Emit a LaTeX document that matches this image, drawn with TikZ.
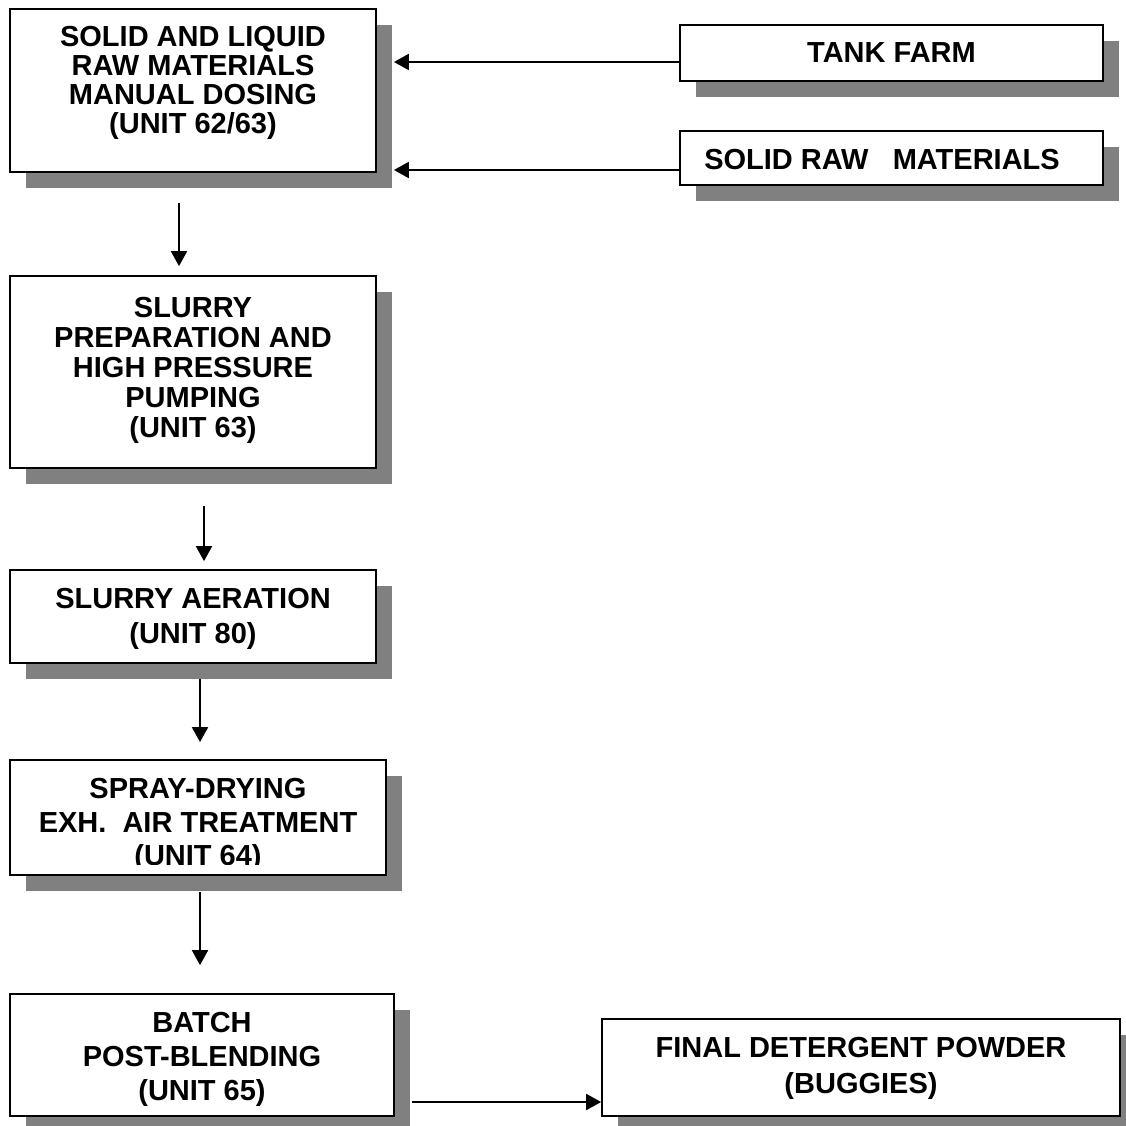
\documentclass[tikz,border=0pt]{standalone}
\usepackage{fontspec}
\setmainfont{Liberation Sans}
\usepackage{tikz}
\usetikzlibrary{arrows.meta,shadows}
\definecolor{shadowgray}{HTML}{808080}

\begin{document}
\begin{tikzpicture}[x=1pt,y=-1pt,
  box/.style={draw,line width=1.7pt,fill=white,inner sep=0pt,
    drop shadow={shadow xshift=16pt,shadow yshift=-16pt,fill=shadowgray,opacity=1}},
  txt/.style={align=center,inner sep=0pt,font=\bfseries\fontsize{29}{33}\selectfont},
  arr/.style={-{Triangle[length=15pt,width=16pt]},line width=1.8pt}]
  \useasboundingbox (0,0) rectangle (1126,1126);

  % Boxes
  \node[box,minimum width=366pt,minimum height=163pt] (dose)   at (193,90.5)   {};
  \node[box,minimum width=423pt,minimum height=56pt]  (tank)   at (891.5,53)   {};
  \node[box,minimum width=423pt,minimum height=54pt]  (solid)  at (891.5,158)  {};
  \node[box,minimum width=366pt,minimum height=192pt] (slurry) at (193,372)    {};
  \node[box,minimum width=366pt,minimum height=93pt]  (aer)    at (193,616.5)  {};
  \node[box,minimum width=376pt,minimum height=115pt] (spray)  at (198,817.5)  {};
  \node[box,minimum width=384pt,minimum height=122pt] (batch)  at (202,1055)   {};
  \node[box,minimum width=518pt,minimum height=97pt]  (final)  at (861,1067.5) {};

  % Texts
  \node[txt,font=\bfseries\fontsize{29}{29}\selectfont] (dose-t) at (193,83)
    {SOLID AND LIQUID\\RAW MATERIALS\\MANUAL DOSING\\(UNIT 62/63)};
  \node[txt] (tank-t)  at (891.5,53) {TANK FARM};
  \node[txt] (solid-t) at (882,160)  {SOLID RAW\ \ \ MATERIALS};
  \node[txt,font=\bfseries\fontsize{29}{30}\selectfont] (slurry-t) at (193,370)
    {SLURRY\\PREPARATION AND\\HIGH PRESSURE\\PUMPING\\(UNIT 63)};
  \node[txt,font=\bfseries\fontsize{29}{35}\selectfont] (aer-t) at (193,618.5)
    {SLURRY AERATION\\(UNIT 80)};
  \begin{scope}
    \clip (0,0) rectangle (1126,864);
    \node[txt,font=\bfseries\fontsize{29}{33.5}\selectfont] (spray-t) at (198,825)
      {SPRAY-DRYING\\EXH.\ \ AIR TREATMENT\\(UNIT 64)};
  \end{scope}
  \node[txt,font=\bfseries\fontsize{29}{34}\selectfont] (batch-t) at (202,1059)
    {BATCH\\POST-BLENDING\\(UNIT 65)};
  \node[txt,font=\bfseries\fontsize{29}{36}\selectfont] (final-t) at (861,1068)
    {FINAL DETERGENT POWDER\\(BUGGIES)};

  % Feeds into dosing
  \coordinate (dose-r)    at ([xshift=17pt]dose.east);
  \coordinate (tank-out)  at ([yshift=-9pt]tank.west);
  \coordinate (solid-out) at ([yshift=-12pt]solid.west);
  \draw[arr] (tank-out)  -- (tank-out -| dose-r);
  \draw[arr] (solid-out) -- (solid-out -| dose-r);

  % Main line
  \draw[arr] ([xshift=-14pt,yshift=-30pt]dose.south) -- ([xshift=-14pt,yshift=9pt]slurry.north);
  \draw[arr] ([xshift=11pt,yshift=-37pt]slurry.south) -- ([xshift=11pt,yshift=8pt]aer.north);
  \draw[arr] ([xshift=7pt,yshift=-15pt]aer.south) -- ([xshift=2pt,yshift=17pt]spray.north);
  \draw[arr] ([xshift=2pt,yshift=-16pt]spray.south) -- ([xshift=-2pt,yshift=28pt]batch.north);
  \draw[arr] ([xshift=17pt,yshift=-47pt]batch.east) -- ([yshift=-34.5pt]final.west);
\end{tikzpicture}
\end{document}
